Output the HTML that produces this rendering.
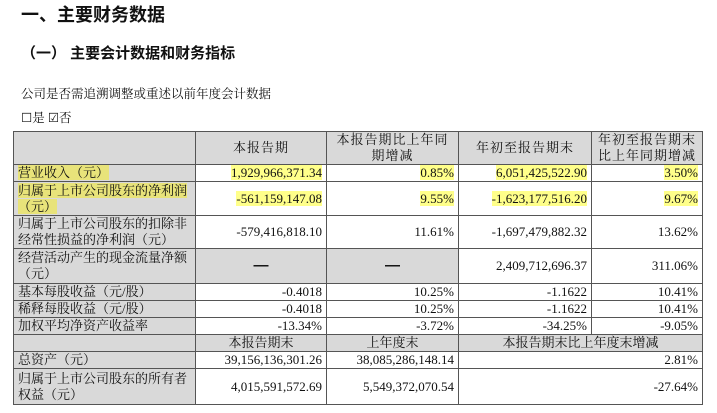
<!DOCTYPE html>
<html><head><meta charset="utf-8"><style>
body{margin:0;width:717px;height:413px;background:#fff;position:relative;overflow:hidden;font-family:"Liberation Serif","Noto Serif CJK SC",serif;color:#111}
.t{position:absolute;white-space:nowrap}
table{position:absolute;left:13px;top:131px;border-collapse:collapse;table-layout:fixed;font-size:13px}
td{border:1px solid #555;padding:0 4px;line-height:16px;overflow:hidden}
.g{background:#d9d9d9}
.c{text-align:center}
.r{text-align:right}
.l{text-align:left}
.h{background:#ffff8a}
.hl{background:#e8e37a}
.s{letter-spacing:1px;padding:0 8px}
.d{font-family:"Liberation Sans",sans-serif;font-weight:bold;font-size:15px}
</style></head><body>
<div class="t" style="left:21px;top:1px;font-size:18px;font-weight:bold;font-family:'Liberation Sans','Noto Sans CJK SC',sans-serif">一、主要财务数据</div>
<div class="t" style="left:21px;top:42px;font-size:15px;font-weight:bold;font-family:'Liberation Sans','Noto Sans CJK SC',sans-serif">（一） 主要会计数据和财务指标</div>
<div class="t" style="left:21px;top:84px;font-size:12.5px">公司是否需追溯调整或重述以前年度会计数据</div>
<div class="t" style="left:21px;top:108px;font-size:12.5px">☐是 ☑否</div>
<table>
<colgroup><col style="width:182px"><col style="width:131px"><col style="width:132px"><col style="width:133px"><col style="width:111px"></colgroup>
<tr style="height:33px"><td class="g"></td><td class="g c s">本报告期</td><td class="g c s">本报告期比上年同期增减</td><td class="g c s">年初至报告期末</td><td class="g c" style="letter-spacing:1px;padding:0 2px">年初至报告期末比上年同期增减</td></tr>
<tr style="height:17px"><td class="g l"><span class="hl">营业收入（元）</span></td><td class="r"><span class="h">1,929,966,371.34</span></td><td class="r"><span class="h">0.85%</span></td><td class="r"><span class="h">6,051,425,522.90</span></td><td class="r"><span class="h">3.50%</span></td></tr>
<tr style="height:34px"><td class="g l"><span class="hl">归属于上市公司股东的净利润</span><br><span class="hl">（元）</span></td><td class="r"><span class="h">-561,159,147.08</span></td><td class="r"><span class="h">9.55%</span></td><td class="r"><span class="h">-1,623,177,516.20</span></td><td class="r"><span class="h">9.67%</span></td></tr>
<tr style="height:33px"><td class="g l">归属于上市公司股东的扣除非经常性损益的净利润（元）</td><td class="r">-579,416,818.10</td><td class="r">11.61%</td><td class="r">-1,697,479,882.32</td><td class="r">13.62%</td></tr>
<tr style="height:35px"><td class="g l">经营活动产生的现金流量净额（元）</td><td class="g c d">—</td><td class="g c d">—</td><td class="r">2,409,712,696.37</td><td class="r">311.06%</td></tr>
<tr style="height:17px"><td class="g l">基本每股收益（元/股）</td><td class="r">-0.4018</td><td class="r">10.25%</td><td class="r">-1.1622</td><td class="r">10.41%</td></tr>
<tr style="height:17px"><td class="g l">稀释每股收益（元/股）</td><td class="r">-0.4018</td><td class="r">10.25%</td><td class="r">-1.1622</td><td class="r">10.41%</td></tr>
<tr style="height:17px"><td class="g l">加权平均净资产收益率</td><td class="r">-13.34%</td><td class="r">-3.72%</td><td class="r">-34.25%</td><td class="r">-9.05%</td></tr>
<tr style="height:17px"><td class="g"></td><td class="g c">本报告期末</td><td class="g c">上年度末</td><td class="g c" colspan="2">本报告期末比上年度末增减</td></tr>
<tr style="height:17px"><td class="g l">总资产（元）</td><td class="r">39,156,136,301.26</td><td class="r">38,085,286,148.14</td><td class="r" colspan="2">2.81%</td></tr>
<tr style="height:36px"><td class="g l">归属于上市公司股东的所有者权益（元）</td><td class="r">4,015,591,572.69</td><td class="r">5,549,372,070.54</td><td class="r" colspan="2">-27.64%</td></tr>
</table>
</body></html>
